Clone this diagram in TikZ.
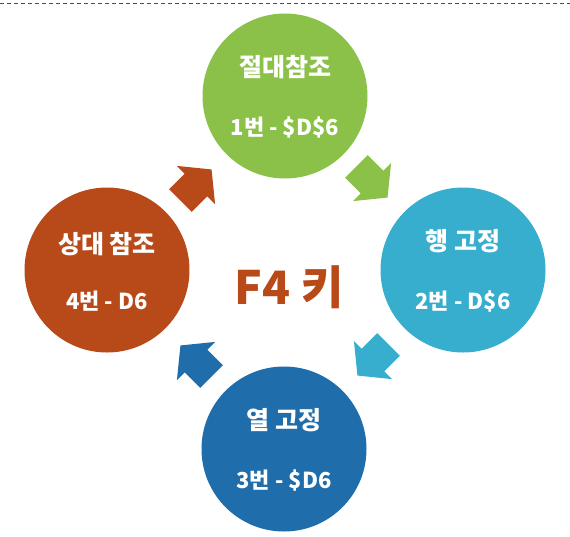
\documentclass[tikz,border=0pt]{standalone}
\usepackage{fontspec}
\newfontfamily\krfont{Noto Sans CJK KR}
\definecolor{AbsGreen}{RGB}{139,193,72}
\definecolor{RowTeal}{RGB}{56,174,206}
\definecolor{ColBlue}{RGB}{31,109,170}
\definecolor{RelOrange}{RGB}{184,74,26}
\tikzset{
    disc/.style={circle, minimum size=165pt, inner sep=0pt},
    disctext/.style={text=white, inner sep=0pt, font=\krfont\bfseries\fontsize{22}{26}\selectfont},
    disctitle/.style={disctext, font=\krfont\bfseries\fontsize{25}{28}\selectfont},
    keytext/.style={inner sep=0pt, font=\krfont\bfseries\fontsize{46}{50}\selectfont}
}
\begin{document}
\begin{tikzpicture}[x=1pt,y=1pt]
    \def\fatarrow#1#2#3{\fill[#1, shift={(#2)}, rotate=#3]
      (-22,16) -- (0,16) -- (0,27) -- (22,0) -- (0,-27) -- (0,-16) -- (-22,-16) -- cycle;}
    \useasboundingbox (0,0) rectangle (570,-536);
    \coordinate (tl) at (0,-3);
    \coordinate (tr) at (570,-3);
    \draw[gray!60!black, dash pattern=on 4pt off 3pt] (tl) -- (tr);
    % four circles
    \node[disc, fill=AbsGreen] (abs) at (285,-96) {};
    \node[disc, fill=RowTeal] (row) at (463,-270) {};
    \node[disc, fill=ColBlue] (col) at (284,-449) {};
    \node[disc, fill=RelOrange] (rel) at (107,-270) {};
    \node[disctitle] (absT) at ([yshift=29pt]abs.center) {절대참조};
    \node[disctext] (absK) at ([yshift=-31pt]abs.center) {1번 - \$D\$6};
    \node[disctitle] (rowT) at ([yshift=29pt]row.center) {행 고정};
    \node[disctext] (rowK) at ([yshift=-31pt]row.center) {2번 - D\$6};
    \node[disctitle] (colT) at ([yshift=29pt]col.center) {열 고정};
    \node[disctext] (colK) at ([yshift=-31pt]col.center) {3번 - \$D6};
    \node[disctitle] (relT) at ([yshift=26pt]rel.center) {상대 참조};
    \node[disctext] (relK) at ([yshift=-31pt]rel.center) {4번 - D6};
    % arrows between the circles
    \fatarrow{AbsGreen}{372,-182}{-45}
    \fatarrow{RowTeal}{373,-360}{-135}
    \fatarrow{ColBlue}{196,-361}{135}
    \fatarrow{RelOrange}{196,-185}{45}
    % centre key
    \node[keytext, text=RelOrange] (f4) at (289,-287) {F4 키};
\end{tikzpicture}
\end{document}
